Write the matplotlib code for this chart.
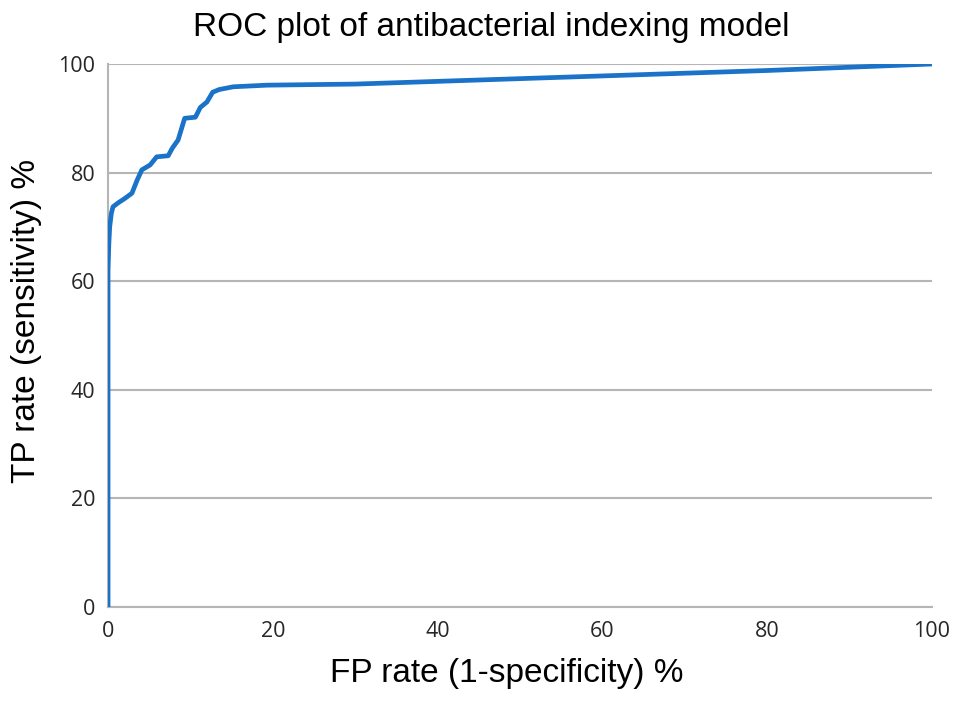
import matplotlib.pyplot as plt

# ROC curve points (FP rate %, TP rate %)
fp_rate = [0, 0, 0, 0.1, 0.2, 0.4, 0.6, 1.2, 2.0, 2.9, 3.5, 4.1, 5.1, 5.9, 7.3, 7.8,
           8.5, 9.3, 10.6, 11.2, 12.0, 12.7, 13.5, 15.2, 19.3, 30, 40, 50, 60, 70, 80, 90, 100]
tp_rate = [0, 40, 62, 67, 70, 72.5, 73.7, 74.4, 75.2, 76.2, 78.5, 80.5, 81.4, 82.9, 83.1, 84.5,
           86, 90, 90.2, 92, 93, 94.8, 95.3, 95.8, 96.1, 96.3, 96.8, 97.3, 97.8, 98.3, 98.8, 99.4, 100]

x_ticks = [0, 20, 40, 60, 80, 100]
y_ticks = [0, 20, 40, 60, 80, 100]

fig = plt.figure(figsize=(9.69, 7.07), dpi=100)
ax = fig.add_axes([0.1115, 0.1414, 0.8503, 0.7681])

ax.plot(fp_rate, tp_rate, color='#1a73c9', linewidth=3.4, solid_capstyle='round', zorder=3)

ax.set_xlim(0, 100)
ax.set_ylim(0, 100)
ax.set_xticks(x_ticks)
ax.set_yticks(y_ticks)
ax.yaxis.grid(True, color='#b5b5b5', linewidth=1.5)
ax.set_axisbelow(True)
for s in ['top', 'right']:
    ax.spines[s].set_visible(False)
for s in ['left', 'bottom']:
    ax.spines[s].set_color('#b5b5b5')
    ax.spines[s].set_linewidth(1.5)
ax.tick_params(length=0, labelsize=15.5, colors='#262626')
ax.tick_params(axis='x', pad=10)
ax.tick_params(axis='y', pad=9)
for lab in ax.get_xticklabels() + ax.get_yticklabels():
    lab.set_family('Open Sans')

ax.set_title('ROC plot of antibacterial indexing model', fontsize=24,
             family='Liberation Sans', pad=20, x=0.465)
ax.set_xlabel('FP rate (1-specificity) %', fontsize=24, family='Liberation Sans')
ax.xaxis.set_label_coords(0.484, -0.093)
ax.xaxis.label.set_va('top')
ax.set_ylabel('TP rate (sensitivity) %', fontsize=24, family='Liberation Sans')
ax.yaxis.set_label_coords(-0.08, 0.527)

plt.savefig('out.png', dpi=100)
plt.close()
